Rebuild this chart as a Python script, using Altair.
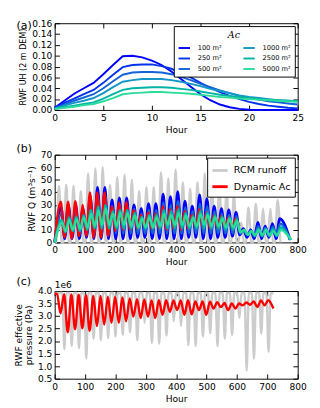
import altair as alt
import pandas as pd

FONT = "DejaVu Sans"

# ---------------- Panel (a): RWF unit hydrographs ----------------
uh_hours = list(range(26))
uh_labels = ["100 m²", "250 m²", "500 m²", "1000 m²", "2500 m²", "5000 m²"]
uh_colors = ["#0000ff", "#0533ee", "#1464d8", "#1496c8", "#00b4a5", "#28dc9a"]
uh_100 = [0.004, 0.017, 0.030, 0.040, 0.050, 0.066, 0.083, 0.099, 0.100, 0.097, 0.091, 0.083, 0.071,
          0.057, 0.043, 0.029, 0.018, 0.010, 0.005, 0.002, 0.0005, 0.0, 0.0, 0.0, 0.0, 0.0]
uh_250 = [0.004, 0.013, 0.021, 0.029, 0.037, 0.050, 0.065, 0.079, 0.083, 0.084, 0.084, 0.081, 0.076,
          0.068, 0.060, 0.050, 0.041, 0.033, 0.026, 0.020, 0.015, 0.011, 0.008, 0.006, 0.004, 0.003]
uh_500 = [0.003, 0.010, 0.017, 0.023, 0.029, 0.040, 0.053, 0.065, 0.069, 0.070, 0.070, 0.069, 0.066,
          0.061, 0.055, 0.048, 0.042, 0.036, 0.031, 0.026, 0.022, 0.019, 0.016, 0.014, 0.012, 0.010]
uh_1000 = [0.003, 0.008, 0.013, 0.017, 0.022, 0.031, 0.042, 0.052, 0.055, 0.057, 0.057, 0.057, 0.055,
           0.052, 0.048, 0.044, 0.039, 0.035, 0.031, 0.027, 0.024, 0.022, 0.020, 0.018, 0.017, 0.016]
uh_2500 = [0.002, 0.005, 0.008, 0.011, 0.014, 0.021, 0.029, 0.037, 0.040, 0.041, 0.042, 0.042, 0.041,
           0.039, 0.037, 0.034, 0.031, 0.028, 0.026, 0.024, 0.022, 0.020, 0.019, 0.018, 0.017, 0.016]
uh_5000 = [0.002, 0.004, 0.006, 0.009, 0.011, 0.016, 0.022, 0.029, 0.031, 0.032, 0.033, 0.033, 0.032,
           0.031, 0.030, 0.028, 0.026, 0.024, 0.023, 0.021, 0.020, 0.019, 0.018, 0.017, 0.016, 0.015]
uh_series = [uh_100, uh_250, uh_500, uh_1000, uh_2500, uh_5000]

# ---------------- Panel (b): RWF discharge ----------------
# RCM runoff daily peaks (hour 14 + 24k), zero at night
rcm_peaks = [45, 46, 45, 41, 55, 59, 60, 46, 52, 54, 50, 41, 44, 44, 56, 51, 58, 48, 43, 48,
             55, 48, 47, 43, 38, 16, 28, 31, 27, 27, 34]
# A_c series: daily peaks / following troughs
q100_peaks = [28, 30, 30, 27, 37, 44, 44, 34, 35.5, 35.5, 30, 27, 31, 31, 38.5, 36.5, 40.5, 33, 29, 38,
              35, 29, 27, 26, 24, 11, 10, 16, 13, 15, 19]
q100_troughs = [3, 3, 3, 4, 3, 3, 3, 3, 3, 3, 4, 4, 3, 3, 3, 3, 3, 4, 4, 3, 3, 4, 4, 5, 6, 4, 3, 3, 4, 3, 2]
q500_peaks = [23, 25, 25, 24, 31, 36, 37, 29, 31, 31, 27, 23, 26, 26, 32, 30, 33, 28, 25, 31,
              29, 25, 23, 22, 21, 10, 9.5, 13, 11.5, 12.5, 15]
q500_troughs = [6, 6, 6, 6, 6, 6, 6, 7, 7, 7, 7, 7, 7, 7, 7, 7, 7, 7, 7, 7, 7, 7, 7, 7, 7, 6, 5, 5, 5, 5, 2]
q2500_peaks = [18, 20, 20.5, 21.5, 26, 29, 30, 25, 26, 26, 23.5, 20.5, 22, 22, 26, 25, 26.5, 23.5, 21, 25,
               24, 21.5, 20.5, 20, 18.5, 10, 9, 11, 10.5, 10.5, 12]
q2500_troughs = [8, 9, 9, 10, 11, 11, 11, 11, 11, 11, 11, 11, 11, 11, 11, 11, 11, 11, 11, 11, 11, 11,
                 10, 10, 8, 6, 5, 5, 5, 5, 2]
q5000_peaks = [16, 18, 18.5, 20, 23, 25.5, 27, 23, 24, 23.5, 21.5, 19, 20, 20, 23, 22, 23.5, 21.5, 19.5,
               22.5, 22, 20, 19, 18.5, 17, 10, 9, 10, 10, 9, 10]
q5000_troughs = [9, 10, 11, 12, 13, 14, 14, 13, 14, 13, 12, 12, 12, 13, 14, 14, 14, 13, 13, 14, 13, 13,
                 12, 12, 8, 6, 6, 6, 6, 6, 2]
# Dynamic A_c
qdyn_peaks = [32.5, 32.5, 33, 30, 40, 40, 40, 29, 32, 32.5, 26, 22, 24, 23, 29, 26.5, 29, 25, 22, 26.5,
              24, 21.5, 21, 20, 19]
qdyn_troughs = [4, 3, 5, 5, 4, 4, 5, 9, 10, 10, 11, 12, 11, 11, 10, 11, 10, 11, 12, 12, 11, 12, 12, 12, 13]

# ---------------- Panel (c): effective pressure (x 1e6 Pa) ----------------
pe_rcm_dips = [1.67, 1.80, 1.71, 1.29, 2.09, 2.03, 2.12, 2.19, 2.26, 2.35, 2.03, 2.73, 1.93, 1.90, 2.22,
               2.79, 2.60, 1.84, 1.80, 2.19, 2.32, 1.80, 2.09, 2.24, 2.92, 0.82, 1.29, 2.31, 1.57]
pe_rcm_top = 3.92
pe_dyn_troughs = [3.11, 2.35, 2.47, 2.51, 2.41, 2.60, 2.66, 2.73, 2.73, 2.79, 2.98, 2.92, 2.98, 2.92, 3.05,
                  3.17, 3.24, 3.05, 3.07, 3.24, 3.05, 3.30, 3.36, 3.24, 3.30, 3.43, 3.45, 3.36, 3.43]
pe_dyn_peaks = [3.87, 3.86, 3.85, 3.83, 3.80, 3.80, 3.77, 3.76, 3.74, 3.70, 3.67, 3.66, 3.62, 3.63, 3.63,
                3.62, 3.62, 3.63, 3.58, 3.58, 3.57, 3.55, 3.52, 3.50, 3.50, 3.54, 3.58, 3.62, 3.63]

# ---------------- build tables ----------------
rows_a = []
for lab, vals in zip(uh_labels, uh_series):
    for h, v in zip(uh_hours, vals):
        rows_a.append({"hour": h, "uh": v, "area": lab})
df_a = pd.DataFrame(rows_a)

rows_b = []
def add_b(name, pts):
    for h, v in pts:
        rows_b.append({"hour": h, "q": v, "series": name})

pts = [(0, 0)]
for k, p in enumerate(rcm_peaks):
    c = 14 + 24 * k
    pts += [(c - 9, 0), (c, p), (c + 9, 0)]
add_b("RCM runoff", pts)

def wave(phase, peaks, troughs, end_hour=None):
    out = [(0, 0)]
    for k, (p, t) in enumerate(zip(peaks, troughs)):
        c = phase + 24 * k
        out.append((c, p))
        th = c + 12
        if end_hour is not None and k == len(peaks) - 1:
            th = end_hour
        out.append((th, t))
    return out

add_b("100 m²", wave(21, q100_peaks, q100_troughs, 775))
add_b("500 m²", wave(22, q500_peaks, q500_troughs, 775))
add_b("2500 m²", wave(23, q2500_peaks, q2500_troughs, 777))
add_b("5000 m²", wave(24, q5000_peaks, q5000_troughs, 779))
add_b("Dynamic Ac", wave(20, qdyn_peaks, qdyn_troughs))
df_b = pd.DataFrame(rows_b)

rows_c = []
pts = [(0, pe_rcm_top)]
for j, d in enumerate(pe_rcm_dips):
    c = 32 + 24 * j
    pts += [(c - 7, pe_rcm_top), (c, d), (c + 7, pe_rcm_top)]
pts.append((720, 3.9))
for h, v in pts:
    rows_c.append({"hour": h, "pe": v, "series": "RCM runoff"})
pts = [(0, 3.9), (8, 3.88)]
for k, (t, p) in enumerate(zip(pe_dyn_troughs, pe_dyn_peaks)):
    pts += [(19 + 24 * k, t), (31 + 24 * k, p)]
pts.append((720, 3.3))
for h, v in pts:
    rows_c.append({"hour": h, "pe": v, "series": "Dynamic Ac"})
df_c = pd.DataFrame(rows_c)

# ---------------- helpers ----------------
W = 255
H = 91

def axes(vals, title, fmt, orient_main, orient_mirror, tsize=9.5, tpad=4):
    main = alt.Axis(values=vals, title=title, orient=orient_main, domain=False, grid=False,
                    tickSize=5, offset=-5, labelPadding=3, titlePadding=tpad, format=fmt,
                    labelFlush=False, labelOverlap=False, tickColor="black", titleFontSize=tsize,
                    titleLineHeight=11)
    mirror = alt.Axis(values=vals, title=None, orient=orient_mirror, domain=False, grid=False,
                      labels=False, tickSize=5, offset=-5, tickColor="black")
    return main, mirror

def panel_title(t, off):
    return alt.TitleParams(text=t, anchor="start", frame="group", offset=off, dx=-40, fontSize=11.5,
                           fontWeight="normal", font=FONT, color="black")

XPAD = 3

# ---- (a)
xa, xa_m = axes([0, 5, 10, 15, 20, 25], "Hour", "d", "bottom", "top", tpad=XPAD)
ya, ya_m = axes([0, 0.02, 0.04, 0.06, 0.08, 0.10, 0.12, 0.14, 0.16], "RWF UH (2 m DEM)", ".2f",
                "left", "right", tsize=8.4)
xs_a = alt.Scale(domain=[0, 25], nice=False)
ys_a = alt.Scale(domain=[0, 0.16], nice=False)
legend_a = alt.Legend(title="Ac", orient="top-right", columns=2, fillColor="white", strokeColor="black",
                      padding=4, offset=3, symbolType="stroke", symbolStrokeWidth=2, symbolSize=144,
                      labelFontSize=7, labelFont=FONT, titleFontSize=10, titleFont="DejaVu Serif",
                      titleFontStyle="italic", titleFontWeight="normal", titleAnchor="middle",
                      titlePadding=2, columnPadding=18, rowPadding=0, labelOffset=7, labelColor="black")
lines_a = alt.Chart(df_a).mark_line(strokeWidth=2).encode(
    x=alt.X("hour:Q", scale=xs_a, axis=xa),
    y=alt.Y("uh:Q", scale=ys_a, axis=ya),
    color=alt.Color("area:N", scale=alt.Scale(domain=uh_labels, range=uh_colors),
                    legend=legend_a, sort=uh_labels),
)
mirror_a = alt.Chart(df_a).mark_point(opacity=0).encode(
    x=alt.X("hour:Q", scale=xs_a, axis=xa_m),
    y=alt.Y("uh:Q", scale=ys_a, axis=ya_m),
)
chart_a = alt.layer(lines_a, mirror_a).resolve_axis(x="independent", y="independent").properties(
    width=W, height=H, title=panel_title("(a)", -14))

# ---- (b)
xb, xb_m = axes([0, 100, 200, 300, 400, 500, 600, 700, 800], "Hour", "d", "bottom", "top", tpad=XPAD)
yb, yb_m = axes([0, 10, 20, 30, 40, 50, 60, 70], "RWF Q (m³s⁻¹)", "d", "left", "right")
xs_b = alt.Scale(domain=[0, 800], nice=False)
ys_b = alt.Scale(domain=[0, 70], nice=False)
legend_b = alt.Legend(title=None, orient="top-right", fillColor="white", strokeColor="black",
                      padding=4, offset=3, symbolType="stroke", symbolStrokeWidth=3, symbolSize=256,
                      labelFontSize=10, labelFont=FONT, rowPadding=1, labelOffset=5, labelColor="black")
leg_col_b = alt.Color("series:N", scale=alt.Scale(domain=["RCM runoff", "Dynamic Ac"],
                                                  range=["#cccccc", "#ff0000"]), legend=legend_b)

def line_b(name, color=None, sw=2.5, first=False):
    enc = dict(x=alt.X("hour:Q", scale=xs_b, axis=xb if first else None),
               y=alt.Y("q:Q", scale=ys_b, axis=yb if first else None))
    enc["color"] = leg_col_b if color is None else alt.value(color)
    return alt.Chart(df_b).transform_filter(alt.datum.series == name).mark_line(
        strokeWidth=sw, interpolate="monotone").encode(**enc)

mirror_b = alt.Chart(df_b).mark_point(opacity=0).encode(
    x=alt.X("hour:Q", scale=xs_b, axis=xb_m), y=alt.Y("q:Q", scale=ys_b, axis=yb_m))
chart_b = alt.layer(
    line_b("RCM runoff", sw=2.5, first=True),
    line_b("100 m²", uh_colors[0], 3),
    line_b("500 m²", uh_colors[2], 2.5),
    line_b("Dynamic Ac", sw=2.5),
    line_b("2500 m²", uh_colors[4], 2.5),
    line_b("5000 m²", uh_colors[5], 2.5),
    mirror_b,
).resolve_axis(x="independent", y="independent").properties(width=W, height=92,
                                                            title=panel_title("(b)", -5))

# ---- (c)
xc, xc_m = axes([0, 100, 200, 300, 400, 500, 600, 700, 800], "Hour", "d", "bottom", "top", tpad=XPAD)
yc, yc_m = axes([0.5, 1.0, 1.5, 2.0, 2.5, 3.0, 3.5, 4.0], ["RWF effective", "pressure (Pa)"], ".1f",
                "left", "right")
xs_c = alt.Scale(domain=[0, 800], nice=False)
ys_c = alt.Scale(domain=[0.5, 4.0], nice=False)

def line_c(name, color, first=False):
    return alt.Chart(df_c).transform_filter(alt.datum.series == name).mark_line(
        strokeWidth=2.5, interpolate="monotone", color=color).encode(
        x=alt.X("hour:Q", scale=xs_c, axis=xc if first else None),
        y=alt.Y("pe:Q", scale=ys_c, axis=yc if first else None))

mirror_c = alt.Chart(df_c).mark_point(opacity=0).encode(
    x=alt.X("hour:Q", scale=xs_c, axis=xc_m), y=alt.Y("pe:Q", scale=ys_c, axis=yc_m))
offset_text = alt.Chart(pd.DataFrame({"t": ["1e6"]})).mark_text(
    align="left", baseline="bottom", fontSize=9.5, font=FONT, color="black").encode(
    text="t:N", x=alt.value(0), y=alt.value(-1))
chart_c = alt.layer(line_c("RCM runoff", "#cccccc", first=True), line_c("Dynamic Ac", "#ff0000"),
                    mirror_c, offset_text
                    ).resolve_axis(x="independent", y="independent").properties(
    width=W, height=92, title=panel_title("(c)", -7))

chart = alt.vconcat(chart_a, chart_b, chart_c, spacing=9).resolve_scale(color="independent").properties(
    padding={"left": 5, "right": 5, "top": 0, "bottom": 0}
).configure_view(stroke="black", strokeWidth=1).configure_axis(
    labelFont=FONT, titleFont=FONT, labelFontSize=9.5, titleFontWeight="normal",
    labelColor="black", titleColor="black"
)

chart.save("out.html", embed_options={"renderer": "svg", "actions": False})
